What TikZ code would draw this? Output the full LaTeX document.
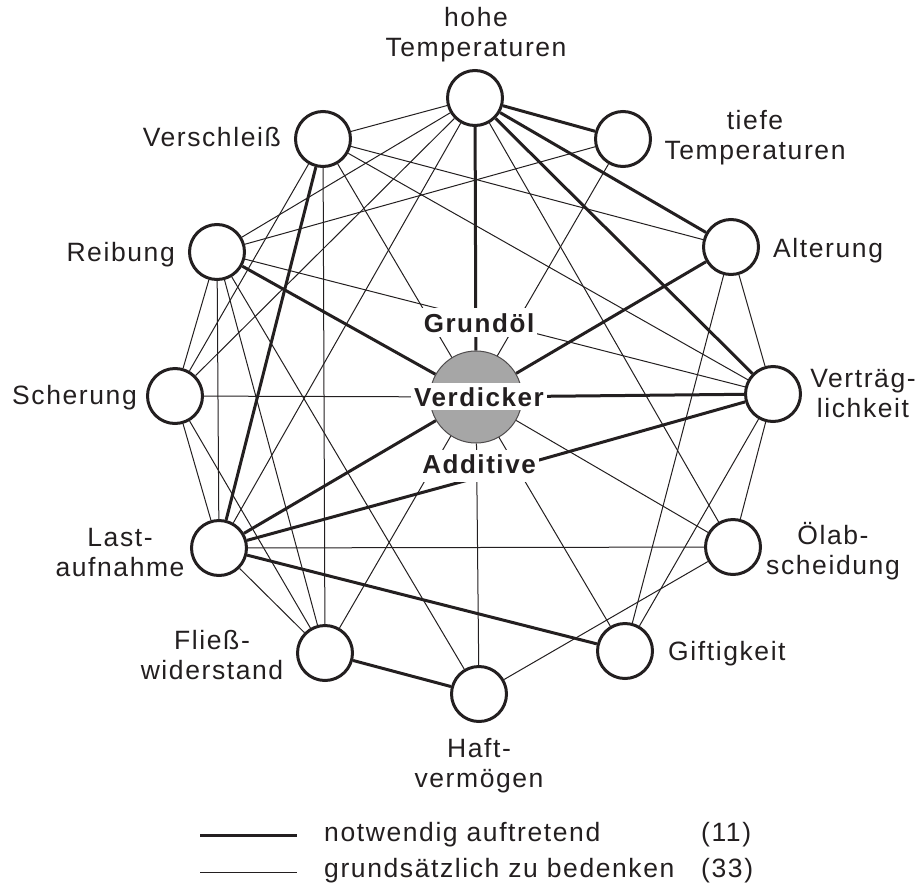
\documentclass[tikz,border=0pt]{standalone}
\usepackage{fontspec}
\setmainfont{Liberation Sans}[LetterSpace=6]
\definecolor{ink}{RGB}{35,31,32}
\definecolor{hub}{RGB}{166,166,166}
\pgfdeclarelayer{edges}
\pgfsetlayers{edges,main}
\begin{document}
\begin{tikzpicture}[x=1pt,y=-1pt,
  every node/.style={font=\fontsize{26.5}{30}\selectfont, text=ink},
  ring/.style={circle, draw=ink, line width=3pt, fill=white, minimum size=55pt, inner sep=0pt},
  hubc/.style={circle, draw=ink!80, line width=1pt, fill=hub, minimum size=92pt, inner sep=0pt},
  part/.style={fill=white, font=\fontsize{26}{30}\selectfont\bfseries, inner xsep=3pt, text height=19pt, text depth=0pt},
  lbl/.style={align=center, inner sep=0pt},
  side/.style={inner sep=0pt},
  strong/.style={draw=ink, line width=3pt},
  weak/.style={draw=ink, line width=1pt}]
\useasboundingbox (0,0) rectangle (917,883);

% outer nodes
\node[ring] (h)  at (475,98)  {};
\node[ring] (t)  at (623,139) {};
\node[ring] (a)  at (731,247) {};
\node[ring] (v)  at (773,394) {};
\node[ring] (o)  at (733,547) {};
\node[ring] (g)  at (625,651) {};
\node[ring] (hf) at (479,694) {};
\node[ring] (f)  at (325,653) {};
\node[ring] (l)  at (219,548) {};
\node[ring] (s)  at (175,396) {};
\node[ring] (r)  at (217,252) {};
\node[ring] (w)  at (323,139) {};

% centre
\node[hubc] (c) at (476,397) {};
\node[part, inner ysep=5pt] (grund) at (479,322.5) {Grundöl};
\node[part, inner ysep=4pt] (verd) at (479,396.5) {Verdicker};
\node[part, inner ysep=4pt, text depth=5pt] (addi) at (479,466) {Additive};
\coordinate (addt) at (479,477);

% labels
\node[lbl] (lh) at (476,35) {hohe\\Temperaturen};
\node[lbl] (lt) at (755,138) {tiefe\\Temperaturen};
\node[side, anchor=base west] (la) at (773,257) {Alterung};
\node[lbl] (lv) at (863,394) {Verträg-\\lichkeit};
\node[lbl] (lo) at (833,551) {Ölab-\\scheidung};
\node[side, anchor=base west] (lg) at (668,660) {Giftigkeit};
\node[lbl] (lhf) at (479,766) {Haft-\\vermögen};
\node[lbl] (lf) at (212,655) {Fließ-\\widerstand};
\node[lbl] (ll) at (120,553) {Last-\\aufnahme};
\node[side, anchor=base east] (ls) at (137,404) {Scherung};
\node[side, anchor=base east] (lr) at (175,261) {Reibung};
\node[side, anchor=base east] (lw) at (281,146) {Verschleiß};

% connectors
\begin{pgfonlayer}{edges}
\draw[strong] (h) -- (t);
\draw[strong] (h) -- (a);
\draw[strong] (h) -- (v);
\draw[strong] (h) -- (c);
\draw[strong] (a) -- (c);
\draw[strong] (v) -- (c);
\draw[strong] (v) -- (addt);
\draw[strong] (r) -- (c);
\draw[strong] (l) -- (c);
\draw[strong] (l) -- (addt);
\draw[strong] (w) -- (l);
\draw[strong] (l) -- (g);
\draw[strong] (f) -- (hf);

\draw[weak] (h) -- (w);
\draw[weak] (h) -- (r);
\draw[weak] (h) -- (s);
\draw[weak] (h) -- (l);
\draw[weak] (h) -- (o);
\draw[weak] (r) -- (t);
\draw[weak] (t) -- (f);
\draw[weak] (w) -- (a);
\draw[weak] (a) -- (v);
\draw[weak] (a) -- (g);
\draw[weak] (w) -- (v);
\draw[weak] (r) -- (v);
\draw[weak] (v) -- (g);
\draw[weak] (v) -- (o);
\draw[weak] (c) -- (o);
\draw[weak] (l) -- (o);
\draw[weak] (o) -- (hf);
\draw[weak] (w) -- (g);
\draw[weak] (c) -- (hf);
\draw[weak] (r) -- (hf);
\draw[weak] (w) -- (f);
\draw[weak] (r) -- (f);
\draw[weak] (s) -- (f);
\draw[weak] (l) -- (f);
\draw[weak] (s) -- (l);
\draw[weak] (r) -- (l);
\draw[weak] (s) -- (r);
\draw[weak] (s) -- (w);
\draw[weak] (s) -- (c);
\end{pgfonlayer}

% legend
\coordinate (k1a) at (200,835);
\coordinate (k1b) at (297,835);
\coordinate (k2a) at (200,872);
\coordinate (k2b) at (297,872);
\draw[strong] (k1a) -- (k1b);
\draw[weak] (k2a) -- (k2b);
\node[side, anchor=base west] (k1t) at (324,841) {notwendig auftretend};
\node[side, anchor=base west] (k1n) at (701,841) {(11)};
\node[side, anchor=base west] (k2t) at (324,877) {grundsätzlich zu bedenken};
\node[side, anchor=base west] (k2n) at (701,877) {(33)};
\end{tikzpicture}
\end{document}
